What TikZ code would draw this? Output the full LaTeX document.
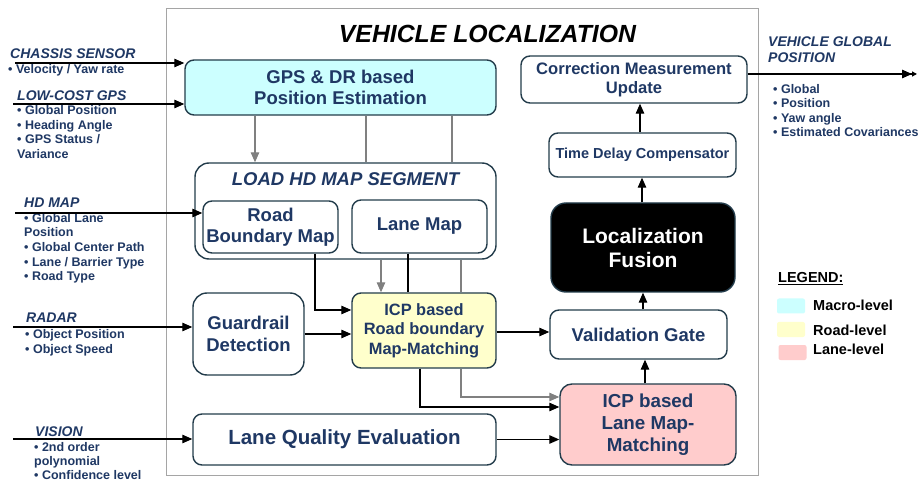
\documentclass[tikz,border=0pt]{standalone}
\usepackage{fontspec}
\setmainfont{Liberation Sans}
\usetikzlibrary{arrows.meta}
\definecolor{txt}{RGB}{31,56,100}
\definecolor{brd}{RGB}{35,60,75}
\definecolor{macro}{RGB}{204,255,255}
\definecolor{road}{RGB}{255,255,204}
\definecolor{lane}{RGB}{255,204,204}
\definecolor{gry}{RGB}{128,128,128}
\definecolor{frm}{RGB}{165,165,165}
\begin{document}
\begin{tikzpicture}[x=1pt,y=-1pt,
 box/.style={draw=brd, line width=1.4pt, rounded corners=9pt, align=center, text=txt, fill=white, inner sep=0pt},
 arr/.style={line width=1.2pt, -{Triangle[length=10pt,width=8.5pt]}},
 garr/.style={draw=gry, line width=1.2pt, -{Triangle[length=10pt,width=8.5pt]}, gry},
 gln/.style={draw=gry, line width=1.2pt},
 bln/.style={line width=1.2pt},
 hd/.style={anchor=base west, inner sep=0pt, text=txt, font=\fontsize{14}{16}\selectfont\bfseries\itshape},
 bl/.style={anchor=base west, inner sep=0pt, text=txt, font=\fontsize{12.5}{14}\selectfont\bfseries},
 lg/.style={anchor=base west, inner sep=0pt, font=\fontsize{14.5}{16}\selectfont\bfseries},
 sw/.style={rounded corners=2pt, inner sep=0pt, minimum width=28pt, minimum height=15pt},
]
\useasboundingbox (0,0) rectangle (919,481);
\fill[white] (0,0) rectangle (919,481);
% frame
\node[draw=frm, line width=1pt, minimum width=592pt, minimum height=466pt, inner sep=0pt] (frame) at (462,242) {};
\node[anchor=base, inner sep=0pt, font=\fontsize{24.8}{27}\selectfont\bfseries\itshape] (title) at (487.5,42.5) {VEHICLE LOCALIZATION};

% boxes
\node[box, fill=macro, minimum width=311pt, minimum height=55pt, font=\fontsize{18.5}{21}\selectfont\bfseries] (GPS) at (340.5,87.5) {GPS \& DR based\\Position Estimation};
\node[box, rounded corners=14pt, minimum width=301pt, minimum height=96pt] (LOAD) at (345.5,211) {};
\node[inner sep=0pt, text=txt, font=\fontsize{18.5}{21}\selectfont\bfseries\itshape] (loadlbl) at (345.5,179) {LOAD HD MAP SEGMENT};
\node[box, minimum width=135pt, minimum height=52pt, font=\fontsize{18.5}{21.5}\selectfont\bfseries] (RBM) at (270.5,227) {Road\\Boundary Map};
\node[box, minimum width=135pt, minimum height=53pt, font=\fontsize{18.5}{21}\selectfont\bfseries] (LM) at (419.5,226.5) {Lane Map};
\node[box, rounded corners=14pt, minimum width=111pt, minimum height=82pt, font=\fontsize{18.5}{21.5}\selectfont\bfseries] (GD) at (248.5,334) {Guardrail\\Detection};
\node[box, fill=road, minimum width=144pt, minimum height=75pt, font=\fontsize{16.4}{19.3}\selectfont\bfseries] (ICPR) at (424,330.5) {ICP based\\Road boundary\\Map-Matching};
\node[box, minimum width=303pt, minimum height=51pt, font=\fontsize{20.5}{23}\selectfont\bfseries] (LQE) at (344.5,439.5) {Lane Quality Evaluation};
\node[box, minimum width=177pt, minimum height=49pt, font=\fontsize{18.5}{21}\selectfont\bfseries] (VG) at (638.5,334.5) {Validation Gate};
\node[box, fill=lane, rounded corners=12pt, minimum width=176pt, minimum height=81pt, font=\fontsize{18.8}{21.7}\selectfont\bfseries] (LMM) at (648,424.5) {ICP based\\Lane Map-\\Matching};
\node[box, fill=black, text=white, rounded corners=15pt, minimum width=184pt, minimum height=89pt, font=\fontsize{21}{24}\selectfont\bfseries] (LF) at (643,247.5) {Localization\\Fusion};
\node[box, minimum width=187pt, minimum height=44pt, font=\fontsize{14.5}{17}\selectfont\bfseries] (TDC) at (642.5,155) {Time Delay Compensator};
\node[box, minimum width=226pt, minimum height=47pt, font=\fontsize{16.6}{19.3}\selectfont\bfseries] (CMU) at (634,79.5) {Correction Measurement\\Update};

% left texts
\node[hd] (hcs) at (10,59) {CHASSIS SENSOR};
\node[bl] (bcs1) at (8,74) {• Velocity / Yaw rate};
\node[hd] (hgps) at (17,101) {LOW-COST GPS};
\node[bl] (bg1) at (17,115) {• Global Position};
\node[bl] (bg2) at (17,130) {• Heading Angle};
\node[bl] (bg3) at (17,144) {• GPS Status /};
\node[bl] (bg4) at (17,159) {Variance};
\node[hd] (hhd) at (24,208) {HD MAP};
\node[bl] (bh1) at (24,223) {• Global Lane};
\node[bl] (bh2) at (24,237) {Position};
\node[bl] (bh3) at (24,252) {• Global Center Path};
\node[bl] (bh4) at (24,267) {• Lane / Barrier Type};
\node[bl] (bh5) at (24,281) {• Road Type};
\node[hd] (hrd) at (26,323) {RADAR};
\node[bl] (br1) at (25,338) {• Object Position};
\node[bl] (br2) at (25,353) {• Object Speed};
\node[hd] (hvs) at (35,436) {VISION};
\node[bl] (bv1) at (34,451) {• 2nd order};
\node[bl] (bv2) at (34,465) {polynomial};
\node[bl] (bv3) at (34,479) {• Confidence level};

% right texts
\node[hd] (hout1) at (768,47) {VEHICLE GLOBAL};
\node[hd] (hout2) at (768,63) {POSITION};
\node[bl] (bo1) at (773,94) {• Global};
\node[bl] (bo2) at (773,108) {• Position};
\node[bl] (bo3) at (773,123) {• Yaw angle};
\node[bl] (bo4) at (773,137) {• Estimated Covariances};

% legend
\node[lg] (lgt) at (778,283) {\underline{LEGEND:}};
\node[sw, fill=macro] (sw1) at (791,306) {};
\node[sw, fill=road] (sw2) at (791,329.5) {};
\node[sw, fill=lane] (sw3) at (792.5,352.5) {};
\node[lg] (lg1) at (813,310) {Macro-level};
\node[lg] (lg2) at (813,335) {Road-level};
\node[lg] (lg3) at (813,355) {Lane-level};

% inputs
\coordinate (inCS) at (15,63);
\coordinate (inGPS) at (13,104);
\coordinate (inHD) at (15,213);
\coordinate (inRD) at (13,327);
\coordinate (inVS) at (13,439);
\draw[arr] (inCS) -- (inCS -| GPS.west);
\draw[arr] (inGPS) -- (inGPS -| GPS.west);
\draw[arr] (inHD) -- (inHD -| RBM.west);
\draw[arr] (inRD) -- (inRD -| GD.west);
\draw[arr] (inVS) -- (inVS -| LQE.west);

% gray from GPS
\draw[garr] (GPS.south -| 255,0) -- (LOAD.north -| 255,0);
\draw[gln] (GPS.south -| 366,0) -- (LOAD.north -| 366,0);
\draw[gln] (GPS.south -| 452,0) -- (LOAD.north -| 452,0);
\draw[garr] (LOAD.south -| 381,0) -- (ICPR.north -| 381,0);
\draw[gln] (LOAD.south -| 461,0) -- (ICPR.north -| 461,0);
\draw[bln] (LM.south -| 408,0) -- (ICPR.north -| 408,0);

% to ICP road
\draw[arr] (RBM.south -| 315,0) |- (0,310 -| ICPR.west);
\draw[arr] (GD.east) -- (GD.east -| ICPR.west);
\draw[arr] (ICPR.east |- 0,332) -- (VG.west |- 0,332);

% to lane MM
\draw[garr] (ICPR.south -| 461,0) |- (0,397 -| LMM.west);
\draw[arr] (ICPR.south -| 420,0) |- (0,407 -| LMM.west);
\draw[arr] (LQE.east) -- (LQE.east -| LMM.west);

% right column
\draw[arr] (LMM.north -| 645,0) -- (VG.south -| 645,0);
\draw[arr] (VG.north -| 643,0) -- (LF.south -| 643,0);
\draw[arr] (LF.north -| 642,0) -- (TDC.south -| 642,0);
\draw[arr] (TDC.north -| 640,0) -- (CMU.south -| 640,0);
\coordinate (out) at (917,74);
\draw[line width=1.2pt, -{Triangle[length=10pt,width=8.5pt] Triangle[length=5pt,width=5pt]}] (CMU.east |- out) -- (out);
\end{tikzpicture}
\end{document}
